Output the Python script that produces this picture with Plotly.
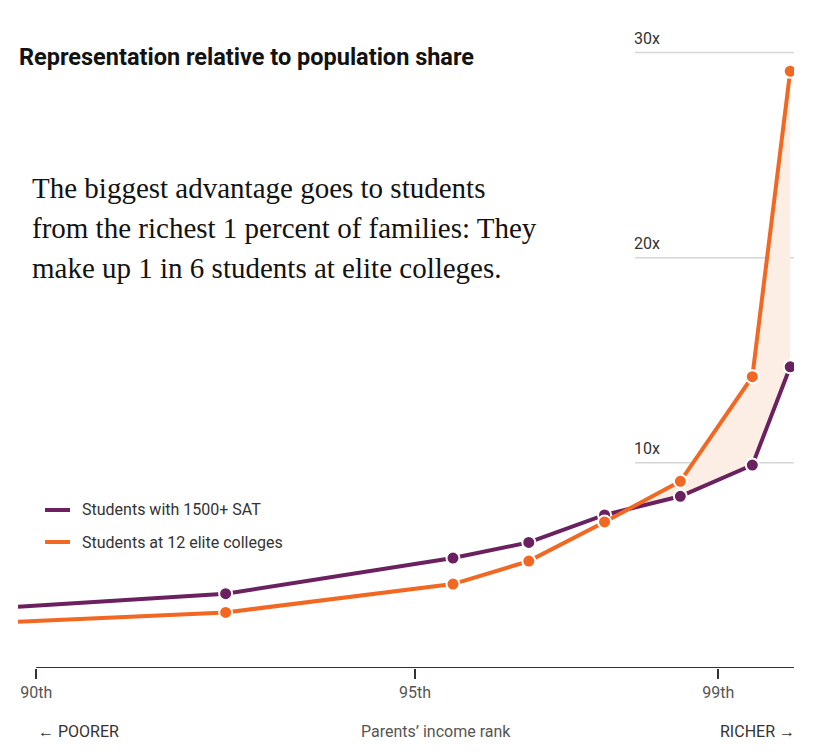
import plotly.graph_objects as go

# ---- data ----
x_rank = [89.76, 92.5, 95.5, 96.5, 97.5, 98.5, 99.45, 99.95]
sat_1500 = [2.99, 3.62, 5.36, 6.12, 7.46, 8.37, 9.89, 14.68]
elite_12 = [2.26, 2.71, 4.09, 5.21, 7.12, 9.10, 14.20, 29.09]
tick_vals = [90, 95, 99]
tick_text = ["90th", "95th", "99th"]
grid_vals = [10, 20, 30]
grid_text = ["10x", "20x", "30x"]
series_names = ["Students with 1500+ SAT", "Students at 12 elite colleges"]

PURPLE = "#6b2160"
ORANGE = "#f26722"
FILL = "#fdeee5"

OFF = 8  # page body margin
W, H = 832, 754
# plot area in page pixels: x 18..794, y 32..668
L = 18 - OFF
R = W - (794 - OFF)
T = 32 - OFF
B = H - (668 - OFF)
pw, ph = W - L - R, H - T - B


def px_x(px):
    return (px - OFF - L) / pw


def px_y(py):
    return ((H - B) - (py - OFF)) / ph


# ---- shaded region where elite > sat (computed from the data) ----
fx, fy_top, fy_bot = [], [], []
for i in range(1, len(x_rank)):
    d0 = elite_12[i - 1] - sat_1500[i - 1]
    d1 = elite_12[i] - sat_1500[i]
    if d0 < 0 <= d1:
        t = -d0 / (d1 - d0)
        xc = x_rank[i - 1] + t * (x_rank[i] - x_rank[i - 1])
        yc = sat_1500[i - 1] + t * (sat_1500[i] - sat_1500[i - 1])
        fx.append(xc); fy_top.append(yc); fy_bot.append(yc)
    if d1 >= 0:
        fx.append(x_rank[i]); fy_top.append(elite_12[i]); fy_bot.append(sat_1500[i])
poly_x = fx + fx[::-1]
poly_y = fy_top + fy_bot[::-1]

fig = go.Figure()
fig.add_trace(go.Scatter(x=poly_x, y=poly_y, fill="toself", fillcolor=FILL,
                         line=dict(width=0), mode="lines", hoverinfo="skip", showlegend=False))

for ys, col in [(sat_1500, PURPLE), (elite_12, ORANGE)]:
    fig.add_trace(go.Scatter(x=x_rank, y=ys, mode="lines",
                             line=dict(color=col, width=4), showlegend=False))
    fig.add_trace(go.Scatter(x=x_rank[1:], y=ys[1:], mode="markers",
                             marker=dict(color=col, size=13, line=dict(color="white", width=2)),
                             showlegend=False))

shapes = []
annotations = []

# gridlines (short, right side)
for gv, gt in zip(grid_vals, grid_text):
    shapes.append(dict(type="line", xref="paper", yref="y", x0=px_x(635), x1=px_x(794),
                       y0=gv, y1=gv, line=dict(color="#d6d6d6", width=1.5), layer="below"))
    annotations.append(dict(xref="paper", yref="y", x=px_x(632), y=gv, text=gt,
                            xanchor="left", yanchor="bottom", yshift=3, showarrow=False,
                            font=dict(family="Roboto", size=16, color="#333333")))

# x axis baseline
shapes.append(dict(type="line", xref="x", yref="y", x0=90, x1=100, y0=0, y1=0,
                   line=dict(color="#333333", width=2)))

# legend
for i, (name, col) in enumerate(zip(series_names, [PURPLE, ORANGE])):
    yy = px_y(510 + 32 * i)
    shapes.append(dict(type="line", xref="paper", yref="paper", x0=px_x(45), x1=px_x(70),
                       y0=yy, y1=yy, line=dict(color=col, width=4)))
    annotations.append(dict(xref="paper", yref="paper", x=px_x(80), y=yy, text=name,
                            xanchor="left", yanchor="middle", showarrow=False,
                            font=dict(family="Roboto", size=16, color="#333333")))

# title
annotations.append(dict(xref="paper", yref="paper", x=px_x(17), y=px_y(57),
                        text="<b>Representation relative to population share</b>",
                        xanchor="left", yanchor="middle", showarrow=False,
                        font=dict(family="Roboto", size=23.5, color="#121212")))

# serif note
note_lines = ["The biggest advantage goes to students",
              "from the richest 1 percent of families: They",
              "make up 1 in 6 students at elite colleges."]
for i, ln in enumerate(note_lines):
    annotations.append(dict(xref="paper", yref="paper", x=px_x(30), y=px_y(188 + 40 * i),
                            text=ln, xanchor="left", yanchor="middle", showarrow=False,
                            font=dict(family="Liberation Serif", size=29, color="#121212")))

# bottom labels
annotations.append(dict(xref="paper", yref="paper", x=px_x(36), y=px_y(731),
                        text="← POORER", xanchor="left", yanchor="middle", showarrow=False,
                        font=dict(family="Roboto", size=16, color="#333333")))
annotations.append(dict(xref="paper", yref="paper", x=px_x(436), y=px_y(731),
                        text="Parents’ income rank", xanchor="center", yanchor="middle", showarrow=False,
                        font=dict(family="Roboto", size=16, color="#555555")))
annotations.append(dict(xref="paper", yref="paper", x=px_x(797), y=px_y(731),
                        text="RICHER →", xanchor="right", yanchor="middle", showarrow=False,
                        font=dict(family="Roboto", size=16, color="#333333")))

fig.update_layout(
    width=W, height=H,
    margin=dict(l=L, r=R, t=T, b=B),
    paper_bgcolor="white", plot_bgcolor="white",
    shapes=shapes, annotations=annotations,
    showlegend=False,
    xaxis=dict(range=[89.76, 100.0], showgrid=False, zeroline=False, showline=False,
               tickmode="array", tickvals=tick_vals, ticktext=tick_text,
               ticks="outside", ticklen=10, tickwidth=1.5, tickcolor="#333333",
               tickfont=dict(family="Roboto", size=16, color="#555555"), fixedrange=True),
    yaxis=dict(range=[0, 31], showgrid=False, zeroline=False, showline=False,
               showticklabels=False, fixedrange=True),
)

fig.write_html("out.html")
